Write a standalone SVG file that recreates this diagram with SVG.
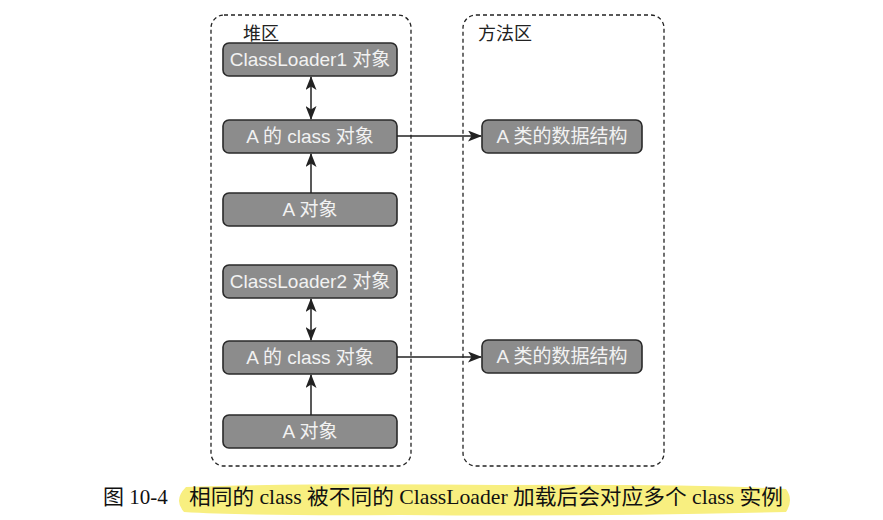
<svg xmlns="http://www.w3.org/2000/svg" width="883" height="520" viewBox="0 0 883 520">
<style>
.region{fill:none;stroke:#222;stroke-width:1.3;stroke-dasharray:4 3}
.box{fill:#8c8c8c;stroke:#2a2a2a;stroke-width:1.6}
.nt{font-family:"Liberation Sans","Noto Sans CJK SC",sans-serif;font-size:19px;fill:#f2f2f2;text-anchor:middle}
.rt{font-family:"Liberation Sans","Noto Sans CJK SC",sans-serif;font-size:18px;fill:#222}
.cap{font-family:"Liberation Serif","Noto Sans CJK SC",serif;font-size:21px;fill:#111}
.ln{stroke:#222;stroke-width:1.5;fill:none}
</style>
<defs>
<marker id="ah" viewBox="0 0 14 11" refX="13" refY="5.5" markerWidth="14" markerHeight="11" markerUnits="userSpaceOnUse" orient="auto-start-reverse">
<path d="M0,0 L14,5.5 L0,11 L3.5,5.5 Z" fill="#222"/>
</marker>
</defs>
<rect width="883" height="520" fill="#fff"/>
<g id="heap">
<rect class="region" x="211" y="15" width="200" height="451" rx="13"/>
<text class="rt" x="243" y="40">堆区</text>
</g>
<g id="method">
<rect class="region" x="463" y="15" width="201" height="451" rx="13"/>
<text class="rt" x="478" y="40">方法区</text>
</g>
<g id="cl1"><rect class="box" x="223" y="43" width="174" height="33" rx="6"/><text class="nt" x="310" y="66">ClassLoader1 对象</text></g>
<g id="aclass1"><rect class="box" x="223" y="120" width="174" height="33" rx="6"/><text class="nt" x="310" y="143">A 的 class 对象</text></g>
<g id="aobj1"><rect class="box" x="223" y="193" width="174" height="33" rx="6"/><text class="nt" x="310" y="216">A 对象</text></g>
<g id="cl2"><rect class="box" x="223" y="265" width="174" height="33" rx="6"/><text class="nt" x="310" y="288">ClassLoader2 对象</text></g>
<g id="aclass2"><rect class="box" x="223" y="341" width="174" height="33" rx="6"/><text class="nt" x="310" y="364">A 的 class 对象</text></g>
<g id="aobj2"><rect class="box" x="223" y="415" width="174" height="33" rx="6"/><text class="nt" x="310" y="438">A 对象</text></g>
<g id="ds1"><rect class="box" x="482" y="120" width="160" height="33" rx="6"/><text class="nt" x="562" y="143">A 类的数据结构</text></g>
<g id="ds2"><rect class="box" x="482" y="340" width="160" height="33" rx="6"/><text class="nt" x="562" y="363">A 类的数据结构</text></g>
<g id="connectors">
<line class="ln" x1="311" y1="77" x2="311" y2="119" marker-start="url(#ah)" marker-end="url(#ah)"/>
<line class="ln" x1="311" y1="193" x2="311" y2="154" marker-end="url(#ah)"/>
<line class="ln" x1="397" y1="136" x2="481" y2="136" marker-end="url(#ah)"/>
<line class="ln" x1="311" y1="299" x2="311" y2="340" marker-start="url(#ah)" marker-end="url(#ah)"/>
<line class="ln" x1="311" y1="415" x2="311" y2="375" marker-end="url(#ah)"/>
<line class="ln" x1="397" y1="357" x2="481" y2="357" marker-end="url(#ah)"/>
</g>
<g id="caption">
<path d="M186,487 Q300,483 500,485 Q700,484 786,489 Q794,500 786,512 Q600,517 400,515 Q250,516 184,512 Q173,500 186,487 Z" fill="#f8ef80"/>
<text class="cap" x="103" y="504">图 10-4</text>
<text class="cap" x="189" y="504" textLength="594" lengthAdjust="spacingAndGlyphs">相同的 class 被不同的 ClassLoader 加载后会对应多个 class 实例</text>
</g>
</svg>
